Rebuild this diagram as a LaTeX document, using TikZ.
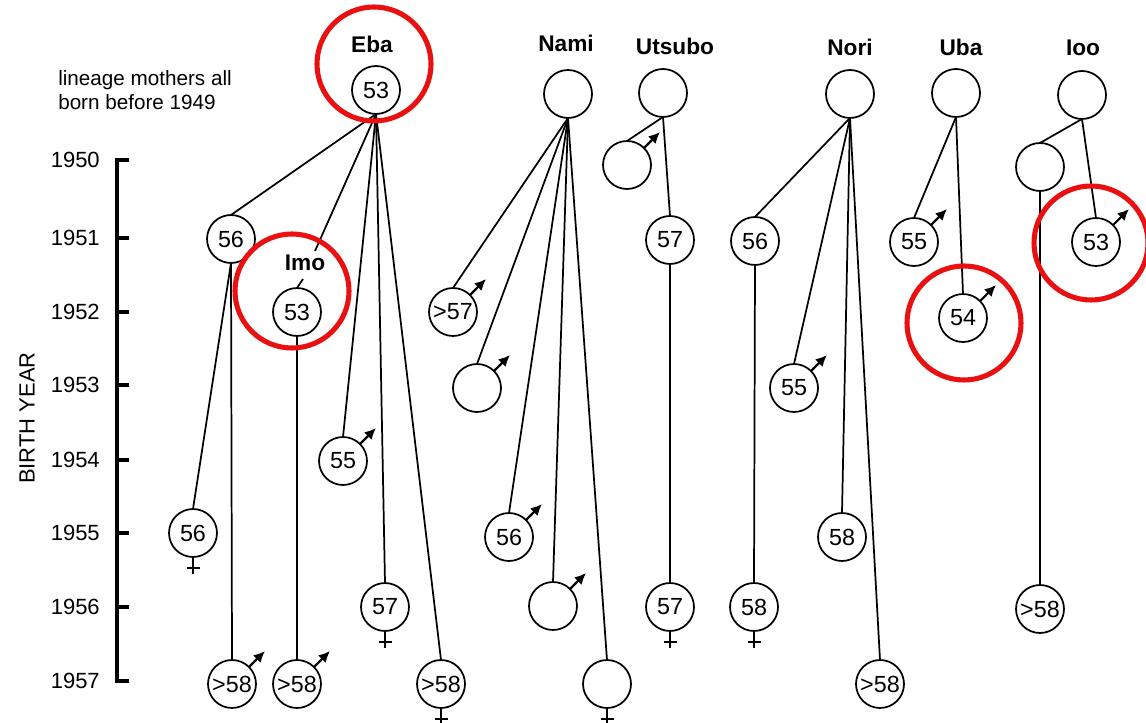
\documentclass[tikz,border=0pt]{standalone}
\usepackage{fontspec}
\setmainfont{Liberation Sans}
\usetikzlibrary{arrows.meta}
\definecolor{ringred}{RGB}{232,16,16}
\tikzset{
  person/.style={circle, draw, line width=1.3pt, minimum size=36pt, inner sep=0pt, outer sep=0pt, font=\fontsize{17.5}{20}\selectfont},
  namelbl/.style={inner sep=0pt, font=\fontsize{17}{20}\selectfont\bfseries},
  yearlbl/.style={inner sep=0pt, anchor=east, font=\fontsize{16.5}{20}\selectfont},
  link/.style={line width=1.3pt},
  malearrow/.style={-{Latex[length=8.5pt,width=8pt]}, line width=1.6pt},
  femline/.style={line width=1.4pt},
  redring/.style={circle, draw=ringred, line width=3.8pt, minimum size=85.5pt, inner sep=0pt},
  axisline/.style={line width=2.6pt}
}
\newcommand\mlsym[1]{\draw[malearrow] (#1.45) -- ++(16,-16);}
\newcommand\fmsym[1]{\draw[femline] (#1.south) -- ++(0,17) (#1.south) ++(-6.5,11) -- ++(13,0);}
\begin{document}
\begin{tikzpicture}[x=0.75pt, y=-0.75pt]
\useasboundingbox (0,0) rectangle (1146,723);

% axis
\draw[axisline] (129,160) -- (117,160) -- (117,681) -- (129,681);
\foreach \yy/\lab in {160/1950,238/1951,312/1952,385/1953,460/1954,533/1955,607/1956,681/1957}{
  \draw[axisline] (117,\yy) -- (129,\yy);
  \node[yearlbl] (y\lab) at (100,\yy) {\lab};
}
\node[rotate=90, inner sep=0pt, font=\fontsize{16.5}{20}\selectfont] (byear) at (27,418) {BIRTH YEAR};
\node[anchor=west, inner sep=0pt, align=left, font=\fontsize{15.5}{18.5}\selectfont] (note) at (58,90) {lineage mothers all\\born before 1949};

% names
\node[namelbl] (leba) at (372,44) {Eba};
\node[namelbl] (lnami) at (566,43) {Nami};
\node[namelbl] (lutsubo) at (675,46) {Utsubo};
\node[namelbl] (lnori) at (850,47) {Nori};
\node[namelbl] (luba) at (961,47) {Uba};
\node[namelbl] (lioo) at (1083,48) {Ioo};

% Eba lineage
\node[person] (eba) at (376,90) {53};
\node[person] (e56a) at (231,239) {56};
\node[namelbl] (limo) at (305,263) {Imo};
\coordinate (imotop) at (315,251);
\coordinate (imobot) at (303,279);
\node[person] (imo) at (297,312) {53};
\node[person] (e55) at (343,461) {55};
\node[person] (e56b) at (193,533) {56};
\node[person] (e57) at (385,607) {57};
\node[person] (e58a) at (232,684) {>58};
\node[person] (e58b) at (297,684) {>58};
\node[person] (e58c) at (441,684) {>58};

\draw[link] (eba.south) -- (e56a.north);
\draw[link] (eba.south) -- (imotop);
\draw[link] (imobot) -- (imo.north);
\draw[link] (eba.south) -- (e55.north);
\draw[link] (eba.south) -- (e57.north);
\draw[link] (eba.south) -- (e58c.north);
\draw[link] (e56a.south) -- (e56b.north);
\draw[link] (e56a.south) -- (e58a.north);
\draw[link] (imo.south) -- (e58b.north);
\mlsym{e55}
\mlsym{e58a}
\mlsym{e58b}
\fmsym{e56b}
\fmsym{e57}
\fmsym{e58c}

% Nami lineage
\node[person] (nami) at (568,94) {};
\node[person] (n57) at (453,312) {>57};
\node[person] (n0a) at (477,388) {};
\node[person] (n56) at (509,537) {56};
\node[person] (n0b) at (553,606) {};
\node[person] (n0c) at (607,684) {};
\foreach \c in {n57,n0a,n56,n0b,n0c}{\draw[link] (nami.south) -- (\c.north);}
\mlsym{n57}
\mlsym{n0a}
\mlsym{n56}
\mlsym{n0b}
\fmsym{n0c}

% Utsubo lineage
\node[person] (utsubo) at (663,93) {};
\node[person] (u0) at (627,165) {};
\node[person] (u57a) at (670,240) {57};
\node[person] (u57b) at (670,607) {57};
\draw[link] (utsubo.south) -- (u0.north);
\draw[link] (utsubo.south) -- (u57a.north);
\draw[link] (u57a.south) -- (u57b.north);
\mlsym{u0}
\fmsym{u57b}

% Nori lineage
\node[person] (nori) at (850,94) {};
\node[person] (no56) at (755,241) {56};
\node[person] (no55) at (794,388) {55};
\node[person] (no58a) at (842,537) {58};
\node[person] (no58b) at (754,607) {58};
\node[person] (no58c) at (880,684) {>58};
\foreach \c in {no56,no55,no58a,no58c}{\draw[link] (nori.south) -- (\c.north);}
\draw[link] (no56.south) -- (no58b.north);
\mlsym{no55}
\fmsym{no58b}

% Uba lineage
\node[person] (uba) at (956,93) {};
\node[person] (ub55) at (914,242) {55};
\node[person] (ub54) at (963,318) {54};
\draw[link] (uba.south) -- (ub55.north);
\draw[link] (uba.south) -- (ub54.north);
\mlsym{ub55}
\mlsym{ub54}

% Ioo lineage
\node[person] (ioo) at (1082,95) {};
\node[person] (i0) at (1040,167) {};
\node[person] (i53) at (1096,242) {53};
\node[person] (i58) at (1040,609) {>58};
\draw[link] (ioo.south) -- (i0.north);
\draw[link] (ioo.south) -- (i53.north);
\draw[link] (i0.south) -- (i58.north);
\mlsym{i53}

% red highlight rings
\node[redring] (reba) at (374,64) {};
\node[redring] (rimo) at (292,291) {};
\node[redring] (ruba) at (964,323) {};
\node[redring] (rioo) at (1091,243) {};
\end{tikzpicture}
\end{document}
